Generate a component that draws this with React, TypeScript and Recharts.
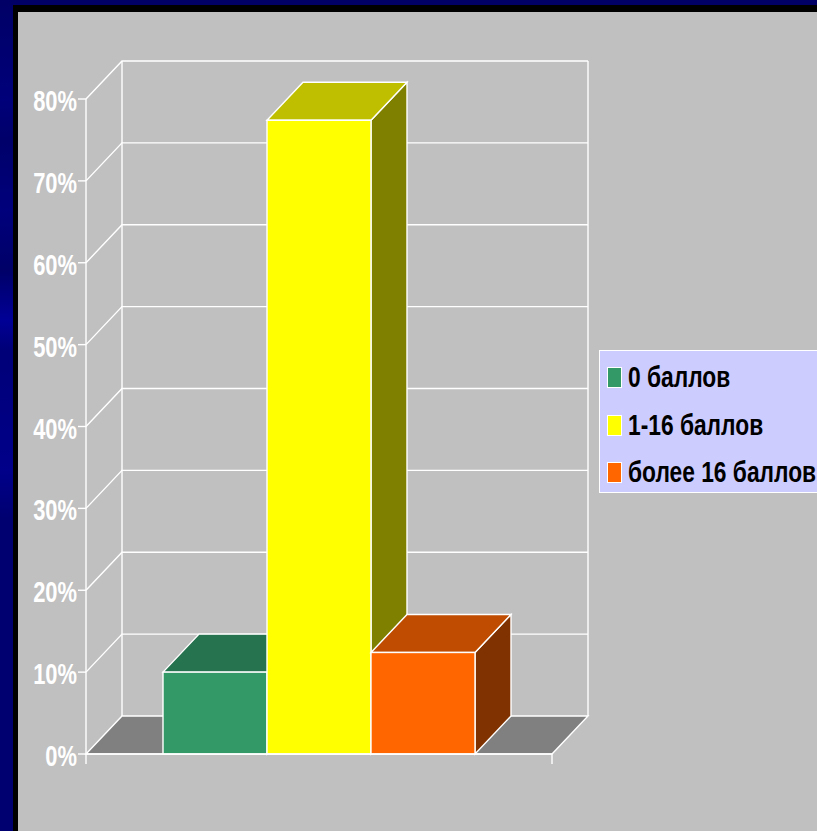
import { BarChart, Bar, XAxis, YAxis, Legend, ReferenceLine } from 'recharts';

const groups = [''];
const noPoints = [10];
const lowPoints = [77.4];
const highPoints = [12.4];
const percentTicks = [0, 10, 20, 30, 40, 50, 60, 70, 80];

const chartData = groups.map((group, index) => ({
  group,
  none: noPoints[index],
  low: lowPoints[index],
  high: highPoints[index],
}));

const WIDTH = 817;
const HEIGHT = 831;
const PLOT_LEFT = 86;
const PLOT_WIDTH = 466;
const DEPTH_X = 36;
const DEPTH_Y = 38;
const TOP_VALUE = 80;
const WALL_HEIGHT = 655;
const LINE_WIDTH = 1.4;
const LABEL_FONT = '"Liberation Sans", Arial, sans-serif';
const STRIP_GRADIENT =
  'linear-gradient(180deg, #000066 0, #00007a 100px, #00006a 140px, #00007c 210px, #000068 270px, #000096 320px, #000078 350px, #00008a 470px, #000070 520px)';

// front face plus the two shaded faces of a 3D column
function Column3D({ x, y, width, height, fill, topFill, sideFill }: any) {
  const right = x + width;
  const bottom = y + height;
  const top = `${x},${y} ${x + DEPTH_X},${y - DEPTH_Y} ${right + DEPTH_X},${y - DEPTH_Y} ${right},${y}`;
  const side = `${right},${y} ${right + DEPTH_X},${y - DEPTH_Y} ${right + DEPTH_X},${bottom - DEPTH_Y} ${right},${bottom}`;
  return (
    <g stroke='#ffffff' strokeWidth={LINE_WIDTH}>
      <polygon points={side} fill={sideFill} />
      <polygon points={top} fill={topFill} />
      <rect x={x} y={y} width={width} height={height} fill={fill} />
    </g>
  );
}

// gridline running along the side wall and across the back wall
function WallLine({ x1, y1, x2 }: any) {
  const backY = y1 - DEPTH_Y;
  return (
    <polyline
      points={`${x1},${y1} ${x1 + DEPTH_X},${backY} ${x2 + DEPTH_X},${backY}`}
      fill='none'
      stroke='#ffffff'
      strokeWidth={LINE_WIDTH}
    />
  );
}

// the zero line carries the floor, the back wall edges and the two drop ticks
function FloorLine({ x1, y1, x2 }: any) {
  const backY = y1 - DEPTH_Y;
  return (
    <g stroke='#ffffff' strokeWidth={LINE_WIDTH}>
      <polygon
        points={`${x1},${y1} ${x1 + DEPTH_X},${backY} ${x2 + DEPTH_X},${backY} ${x2},${y1}`}
        fill='#808080'
      />
      <line x1={x1 + DEPTH_X} y1={backY} x2={x1 + DEPTH_X} y2={backY - WALL_HEIGHT} />
      <line x1={x2 + DEPTH_X} y1={backY} x2={x2 + DEPTH_X} y2={backY - WALL_HEIGHT} />
      <line x1={x1} y1={y1} x2={x1} y2={y1 + 10} />
      <line x1={x2} y1={y1} x2={x2} y2={y1 + 10} />
    </g>
  );
}

function PercentTick({ x, y, payload }: any) {
  return (
    <g>
      <line x1={x} y1={y} x2={x + 8} y2={y} stroke='#ffffff' strokeWidth={LINE_WIDTH} />
      {/* no narrow face is installed, so the bold face gets squeezed horizontally */}
      <text
        transform={`translate(${x - 1},${y + 12}) scale(0.73,1)`}
        textAnchor='end'
        fill='#ffffff'
        fontFamily={LABEL_FONT}
        fontWeight='bold'
        fontSize={30}
      >
        {`${payload.value}%`}
      </text>
    </g>
  );
}

function LegendBox({ payload }: any) {
  return (
    <div
      style={{
        boxSizing: 'border-box',
        width: 230,
        height: 143,
        background: '#ccccff',
        border: '1px solid #ffffff',
        paddingTop: 3,
      }}
    >
      {(payload ?? []).map((entry: any) => (
        <div key={entry.value} style={{ display: 'flex', alignItems: 'center', height: 47.5 }}>
          <span
            style={{
              boxSizing: 'border-box',
              flexShrink: 0,
              width: 15,
              height: 21,
              marginLeft: 7,
              marginRight: 6,
              background: entry.color,
              border: '1px solid #ffffff',
            }}
          />
          <span
            style={{
              display: 'inline-block',
              transform: 'scaleX(0.785)',
              transformOrigin: 'left center',
              fontFamily: LABEL_FONT,
              fontWeight: 'bold',
              fontSize: 29,
              color: '#000000',
              whiteSpace: 'nowrap',
            }}
          >
            {entry.value}
          </span>
        </div>
      ))}
    </div>
  );
}

export default function App() {
  return (
    <div
      style={{
        position: 'absolute',
        left: 0,
        top: 0,
        width: WIDTH,
        height: HEIGHT,
        overflow: 'hidden',
        background: STRIP_GRADIENT,
      }}
    >
      <div style={{ position: 'absolute', left: 13, top: 5, right: 0, bottom: 0, background: '#000000' }} />
      <div style={{ position: 'absolute', left: 18, top: 12, right: 0, bottom: 0, background: '#c0c0c0' }} />
      <div style={{ position: 'absolute', left: 0, top: 0 }}>
        <BarChart
          width={WIDTH}
          height={HEIGHT}
          data={chartData}
          margin={{ top: 99, right: WIDTH - PLOT_LEFT - PLOT_WIDTH, bottom: 0, left: 0 }}
          barCategoryGap={77}
          barGap={0}
        >
          <XAxis dataKey='group' height={77} tick={false} tickLine={false} axisLine={{ stroke: '#ffffff', strokeWidth: LINE_WIDTH }} />
          <YAxis
            width={PLOT_LEFT}
            domain={[0, TOP_VALUE]}
            ticks={percentTicks}
            interval={0}
            tickSize={8}
            tickMargin={0}
            tickLine={false}
            axisLine={{ stroke: '#ffffff', strokeWidth: LINE_WIDTH }}
            tick={PercentTick}
          />
          {percentTicks.map((value) => (
            <ReferenceLine
              key={value}
              y={value}
              zIndex={100}
              ifOverflow='visible'
              shape={value === 0 ? FloorLine : WallLine}
            />
          ))}
          <Legend
            layout='vertical'
            align='center'
            verticalAlign='middle'
            wrapperStyle={{ position: 'absolute', left: 599, top: 350, width: 230, height: 143, margin: 0 }}
            content={LegendBox}
          />
          <Bar
            dataKey='none'
            name='0 баллов'
            fill='#339966'
            isAnimationActive={false}
            shape={(props: any) => <Column3D {...props} topFill='#267350' sideFill='#1a4d33' />}
          />
          <Bar
            dataKey='low'
            name='1-16 баллов'
            fill='#ffff00'
            isAnimationActive={false}
            shape={(props: any) => <Column3D {...props} topFill='#bfbf00' sideFill='#808000' />}
          />
          <Bar
            dataKey='high'
            name='более 16 баллов'
            fill='#ff6600'
            isAnimationActive={false}
            shape={(props: any) => <Column3D {...props} topFill='#bf4c00' sideFill='#803300' />}
          />
        </BarChart>
      </div>
    </div>
  );
}
